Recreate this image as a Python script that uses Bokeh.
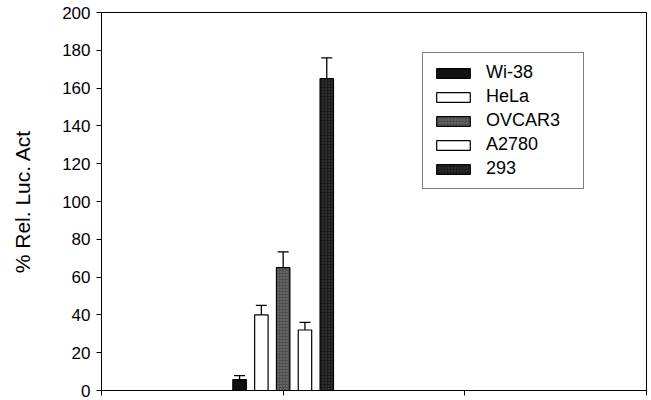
from bokeh.plotting import figure
from bokeh.models import (ColumnDataSource, Range1d, FixedTicker, Whisker, TeeHead,
                          Legend, LegendItem)
from bokeh.embed import file_html
from bokeh.resources import INLINE

# ---- data ----
cell_lines = ["Wi-38", "HeLa", "OVCAR3", "A2780", "293"]
values = [5.8, 40.0, 65.0, 32.0, 165.0]
errors = [2.1, 5.0, 8.3, 4.0, 11.0]
y_ticks = [0, 20, 40, 60, 80, 100, 120, 140, 160, 180, 200]

# ---- styles ----
fills = ["#111111", "#ffffff", "#4f4f4f", "#ffffff", "#1b1b1b"]
hatches = [None, None, "dot", None, "dot"]
hatch_cols = ["#111111", "#ffffff", "#8e8e8e", "#ffffff", "#555555"]
group_center = 1.0
step = 0.12
bar_w = 0.074

xs = [group_center + (i - 2) * step for i in range(len(cell_lines))]
tops = [v + e for v, e in zip(values, errors)]

FONT = "Liberation Sans"

p = figure(width=651, height=400, output_backend="svg", toolbar_location=None,
           x_range=Range1d(0, 3), y_range=Range1d(0, 200),
           min_border_left=101, min_border_right=5, min_border_top=12, min_border_bottom=10)
p.outline_line_color = "black"
p.outline_line_width = 1
p.xgrid.grid_line_color = None
p.ygrid.grid_line_color = None
p.background_fill_color = "white"

renderers = []
for i, name in enumerate(cell_lines):
    src = ColumnDataSource(dict(x=[xs[i]], top=[values[i]]))
    kw = {}
    if hatches[i]:
        kw = dict(hatch_pattern=hatches[i], hatch_color=hatch_cols[i],
                  hatch_scale=3, hatch_weight=1, hatch_alpha=0.8)
    r = p.vbar(x="x", top="top", width=bar_w, source=src, fill_color=fills[i],
               line_color="black", line_width=1.2, **kw)
    renderers.append(r)

wsrc = ColumnDataSource(dict(base=xs, lower=values, upper=tops))
wh = Whisker(base="base", lower="lower", upper="upper", source=wsrc,
             line_color="black", line_width=1.3,
             upper_head=TeeHead(size=11, line_color="black", line_width=1.3),
             lower_head=None)
p.add_layout(wh)

# y axis
p.yaxis.ticker = FixedTicker(ticks=y_ticks)
p.yaxis.axis_label = "% Rel. Luc. Act"
p.yaxis.axis_label_text_font = FONT
p.yaxis.axis_label_text_font_style = "normal"
p.yaxis.axis_label_text_font_size = "21px"
p.yaxis.axis_label_text_color = "black"
p.yaxis.axis_label_standoff = 25
p.yaxis.major_label_text_font = FONT
p.yaxis.major_label_text_font_size = "17px"
p.yaxis.major_label_text_color = "black"
p.yaxis.major_label_standoff = 6
p.yaxis.major_tick_in = 0
p.yaxis.major_tick_out = 5
p.yaxis.minor_tick_line_color = None
p.yaxis.axis_line_color = "black"
p.yaxis.major_tick_line_color = "black"

# x axis (ticks only, no labels)
p.xaxis.ticker = FixedTicker(ticks=[0, 1, 2, 3])
p.xaxis.major_label_overrides = {0: "", 1: "", 2: "", 3: ""}
p.xaxis.major_label_standoff = 0
p.xaxis.major_tick_in = 0
p.xaxis.major_tick_out = 5
p.xaxis.minor_tick_line_color = None
p.xaxis.axis_line_color = "black"
p.xaxis.major_tick_line_color = "black"

items = [LegendItem(label=n, renderers=[r]) for n, r in zip(cell_lines, renderers)]
legend = Legend(items=items, location=(321, 201),
                glyph_width=42, glyph_height=12, label_height=20, spacing=3,
                padding=9, label_standoff=12, label_width=88,
                label_text_font=FONT, label_text_font_size="18px",
                label_text_color="black",
                border_line_color="black", border_line_width=1,
                background_fill_color="white", background_fill_alpha=1)
p.add_layout(legend)

open("out.html", "w").write(file_html(p, INLINE))
